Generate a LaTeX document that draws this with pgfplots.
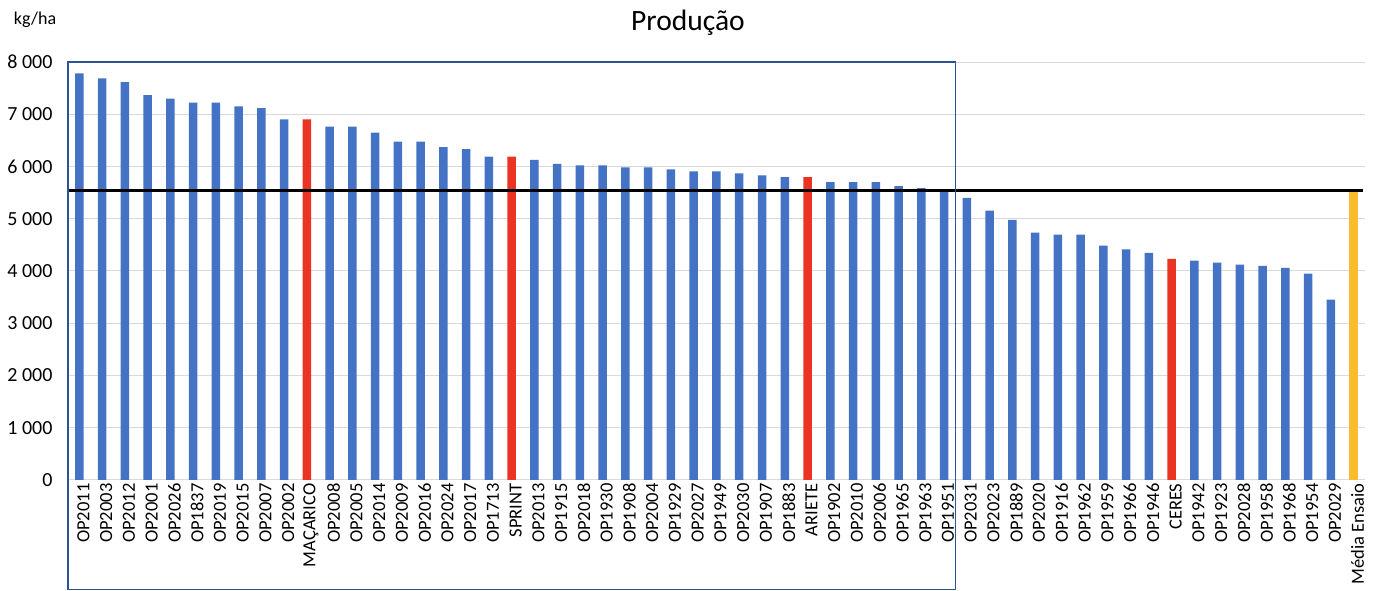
\documentclass[border=0pt]{standalone}
\usepackage{fontspec}
\setmainfont{Carlito}
\usepackage{pgfplots}
\pgfplotsset{compat=1.18}

\definecolor{barblue}{RGB}{68,114,196}
\definecolor{barred}{RGB}{234,51,35}
\definecolor{baryellow}{RGB}{250,188,45}
\definecolor{boxblue}{RGB}{47,82,150}
\definecolor{gridgray}{RGB}{217,217,217}

\begin{document}
\begin{tikzpicture}
\useasboundingbox (-68pt,-111pt) rectangle (1306pt,480pt);

\begin{axis}[%
at={(0pt,0pt)}, anchor=south west,
width=1297pt,
height=418pt,
scale only axis,
clip=false,
ybar, bar width=8.5pt, bar shift=0pt,
xmin=-0.5, xmax=56.5,
ymin=0, ymax=8000,
ytick={0,1000,2000,3000,4000,5000,6000,7000,8000},
yticklabels={0,1 000,2 000,3 000,4 000,5 000,6 000,7 000,8 000},
xtick={0,...,56},
xticklabels={OP2011,OP2003,OP2012,OP2001,OP2026,OP1837,OP2019,OP2015,OP2007,OP2002,MAÇARICO,OP2008,OP2005,OP2014,OP2009,OP2016,OP2024,OP2017,OP1713,SPRINT,OP2013,OP1915,OP2018,OP1930,OP1908,OP2004,OP1929,OP2027,OP1949,OP2030,OP1907,OP1883,ARIETE,OP1902,OP2010,OP2006,OP1965,OP1963,OP1951,OP2031,OP2023,OP1889,OP2020,OP1916,OP1962,OP1959,OP1966,OP1946,CERES,OP1942,OP1923,OP2028,OP1958,OP1968,OP1954,OP2029,Média Ensaio},
yticklabel style={font=\fontsize{20}{22}\selectfont, xshift=-12pt},
xticklabel style={font=\fontsize{18.5}{20}\selectfont, rotate=90, anchor=east, yshift=-4pt},
major tick length=0pt,
axis line style={draw=none},
ymajorgrids,
grid style={gridgray, line width=1pt},
]

% blue bars
\addplot[fill=barblue, draw=none] coordinates {
(0,7784)(1,7688)(2,7617)(3,7368)(4,7298)(5,7222)(6,7222)(7,7151)(8,7119)(9,6902)
(11,6762)(12,6762)(13,6647)(14,6474)(15,6474)(16,6371)(17,6333)(18,6187)
(20,6129)(21,6052)(22,6020)(23,6020)(24,5982)(25,5982)(26,5943)(27,5905)(28,5905)(29,5867)(30,5828)(31,5796)
(33,5700)(34,5700)(35,5700)(36,5623)(37,5585)(38,5547)
(39,5400)(40,5157)(41,4978)(42,4735)(43,4697)(44,4697)(45,4486)(46,4415)(47,4345)
(49,4198)(50,4160)(51,4122)(52,4096)(53,4058)(54,3949)(55,3451)
};

% control varieties
\addplot[fill=barred, draw=none] coordinates {
(10,6902)(19,6187)(32,5796)(48,4230)
};

% trial mean
\addplot[fill=baryellow, draw=none] coordinates {
(56,5547)
};

% mean line
\addplot[sharp plot, black, line width=3pt] coordinates {
(-0.5,5547)(56.4,5547)
};

\draw[boxblue, line width=1.3pt] (axis cs:-0.5,8000) rectangle (axis cs:38.5,-2100);

\end{axis}

\node[font=\fontsize{29.5}{32}\selectfont] at (620pt,457pt) {Produção};
\node[font=\fontsize{18}{20}\selectfont] at (-33pt,460pt) {kg/ha};
\end{tikzpicture}
\end{document}
